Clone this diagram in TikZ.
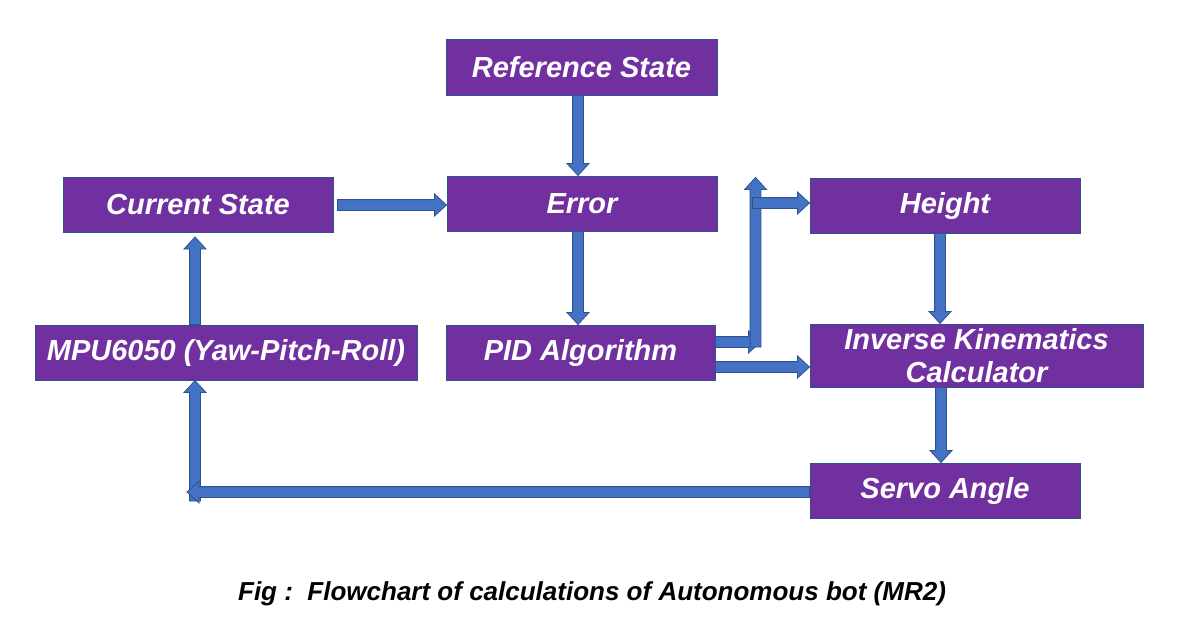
\documentclass[tikz,border=0pt]{standalone}
\usepackage{fontspec}
\setmainfont{Liberation Sans}
\usetikzlibrary{calc}
\definecolor{boxpurple}{HTML}{7030A0}
\definecolor{boxline}{HTML}{2F528F}
\definecolor{arrfill}{HTML}{4472C4}
\newcommand\basw{2.7pt}
\newcommand\bahw{5.5pt}
\newcommand\bahl{6pt}
\newcommand\barrow[2]{%
  \path (#1) coordinate (ba-s) (#2) coordinate (ba-e);
  \path ($(ba-e)!\bahl!(ba-s)$) coordinate (ba-h);
  \filldraw[blockarrow]
    ($(ba-s)!\basw!90:(ba-e)$) -- ($(ba-h)!\basw!90:(ba-e)$) --
    ($(ba-h)!\bahw!90:(ba-e)$) -- (ba-e) --
    ($(ba-h)!\bahw!-90:(ba-e)$) -- ($(ba-h)!\basw!-90:(ba-e)$) --
    ($(ba-s)!\basw!-90:(ba-e)$) -- cycle;}
\tikzset{
  box/.style={draw=boxline, line width=0.5pt, fill=boxpurple, text=white,
    font=\fontsize{14.5}{16.5}\selectfont\bfseries\itshape, inner sep=0pt,
    align=center, minimum height=27.5pt},
  blockarrow/.style={fill=arrfill, draw=boxline, line width=0.4pt, line join=miter},
  caption/.style={font=\fontsize{13}{15}\selectfont\bfseries\itshape, text=black, inner sep=0pt}
}
\begin{document}
\begin{tikzpicture}[x=0.5pt,y=-0.5pt]
\useasboundingbox[fill=white] (0,0) rectangle (1181,637);
\node[box, minimum width=135.5pt, minimum height=28pt] (ref) at (581.5,67) {Reference State};
\node[box, minimum width=135pt] (err) at (582,203.5) {Error};
\node[box, minimum width=135pt] (cur) at (198,205) {Current State};
\node[box, minimum width=135pt] (hgt) at (945,205.5) {Height};
\node[box, minimum width=191pt] (mpu) at (226,352.5) {MPU6050 (Yaw-Pitch-Roll)};
\node[box, minimum width=134.5pt] (pid) at (580.5,352.5) {PID Algorithm};
\node[box, minimum width=166.5pt, minimum height=31.5pt] (ik) at (976.5,355.5) {Inverse Kinematics\\Calculator};
\node[box, minimum width=135pt] (srv) at (945,490.5) {Servo Angle};
\node[caption] (cap) at (592,594) {Fig :\ \ Flowchart of calculations of Autonomous bot (MR2)};

% anchor points of the connectors
\coordinate (a1) at ($(ref.south)+(-3.5,0)$);
\coordinate (a2) at ($(cur.east)+(4,0)$);
\coordinate (a3) at ($(err.south)+(-4,0)$);
\coordinate (a4) at ($(hgt.south)+(-5,0)$);
\coordinate (a5) at ($(ik.south -| hgt.south)+(-4,0)$);
\coordinate (a6) at ($(pid.east)+(0,14.5)$);
\coordinate (b0) at ($(pid.east)+(0,-10.5)$);
\coordinate (b1) at ($(b0)+(45,0)$);
\coordinate (b2) at ($(b0)+(40,5)$);
\coordinate (b3) at ($(b2 |- hgt.west)+(-3,-2.5)$);
\coordinate (c0) at ($(srv.west)+(0,1.5)$);
\coordinate (c1) at ($(mpu.south)+(-31,0)$);
\coordinate (c2) at ($(c1 |- c0)+(-8,0)$);
\coordinate (c3) at ($(c1 |- c0)+(0,9)$);
\coordinate (c4) at ($(mpu.north)+(-31,0)$);
\coordinate (c5) at ($(cur.south)+(0,4)$);

% straight connectors
\barrow{a1}{a1 |- err.north}
\barrow{a2}{a2 -| err.west}
\barrow{a3}{a3 |- pid.north}
\barrow{a4}{a4 |- ik.north}
\barrow{a5}{a5 |- srv.north}
\barrow{a6}{a6 -| ik.west}
% PID -> Height (three segments)
\barrow{b0}{b1}
\barrow{b2}{b2 |- hgt.north}
\barrow{b3}{b3 -| hgt.west}
% Servo -> MPU
\barrow{c3}{c1}
\barrow{c0}{c2}
% MPU -> Current
\barrow{c4}{c4 |- c5}
\end{tikzpicture}
\end{document}
